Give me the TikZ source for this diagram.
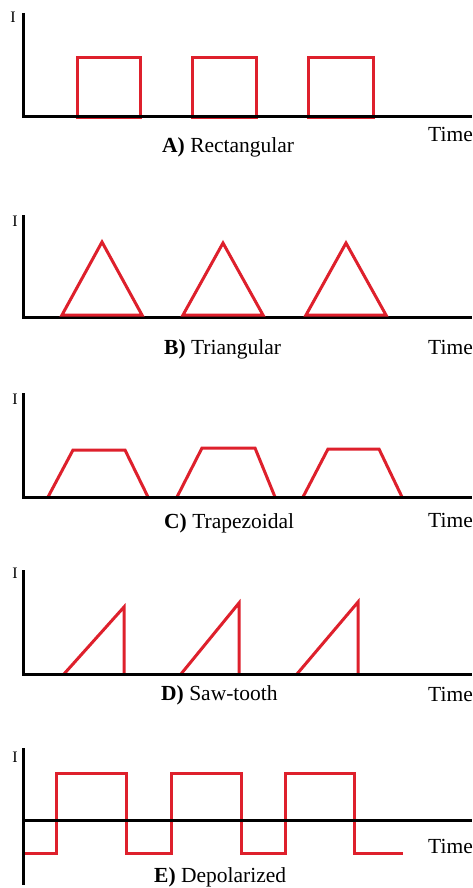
\documentclass[tikz,border=0pt]{standalone}
\usepackage{fontspec}
\setmainfont{Liberation Serif}
\definecolor{wred}{RGB}{222,32,44}
\begin{document}
\begin{tikzpicture}[x=1pt,y=-1pt,
  axis/.style={line width=3pt,black,line join=miter},
  wave/.style={line width=3pt,wred,line join=miter},
  caption/.style={font=\fontsize{21.5}{24}\selectfont,anchor=base west,inner sep=0pt},
  ilab/.style={font=\fontsize{16}{18}\selectfont,anchor=base,inner sep=0pt}]
\useasboundingbox[fill=white] (0,0) rectangle (472,888);
% ---------- A) Rectangular ----------
\draw[wave] (77,118) rectangle (140,58);
\draw[wave] (192,118) rectangle (256,58);
\draw[wave] (308,118) rectangle (373,58);
\draw[axis] (23,13) -- (23,117) -- (472,117);
\node[ilab] (iA) at (13,23) {I};
\node[caption] (capA) at (162,152) {\textbf{A)} Rectangular};
\node[caption] (tA) at (428,142) {Time};
% ---------- B) Triangular ----------
\draw[axis] (23,215) -- (23,317) -- (472,317);
\draw[wave] (62,315) -- (102,242) -- (142,315) -- cycle;
\draw[wave] (183,315) -- (223,243) -- (263,315) -- cycle;
\draw[wave] (306,315) -- (346,243) -- (386,315) -- cycle;
\node[ilab] (iB) at (15,226) {I};
\node[caption] (capB) at (164,354) {\textbf{B)} Triangular};
\node[caption] (tB) at (428,354) {Time};
% ---------- C) Trapezoidal ----------
\draw[wave] (48,497) -- (73,450) -- (125,450) -- (148,497);
\draw[wave] (177,497) -- (202,448) -- (255,448) -- (275,497);
\draw[wave] (303,497) -- (328,449) -- (379,449) -- (402,497);
\draw[axis] (23,393) -- (23,497) -- (472,497);
\node[ilab] (iC) at (15,404) {I};
\node[caption] (capC) at (164,528) {\textbf{C)} Trapezoidal};
\node[caption] (tC) at (428,527) {Time};
% ---------- D) Saw-tooth ----------
\draw[wave] (64,674) -- (124,607) -- (124,674);
\draw[wave] (181,674) -- (239,603) -- (239,674);
\draw[wave] (297,674) -- (358,602) -- (358,674);
\draw[axis] (23,570) -- (23,674) -- (472,674);
\node[ilab] (iD) at (15,578) {I};
\node[caption] (capD) at (161,700) {\textbf{D)} Saw-tooth};
\node[caption] (tD) at (428,701) {Time};
% ---------- E) Depolarized ----------
\draw[wave] (23,853) -- (56,853) -- (56,773) -- (126,773) -- (126,853)
  -- (171,853) -- (171,773) -- (241,773) -- (241,853)
  -- (285,853) -- (285,773) -- (354,773) -- (354,853) -- (403,853);
\draw[axis] (23,748) -- (23,885);
\draw[axis] (23,820) -- (472,820);
\node[ilab] (iE) at (15,762) {I};
\node[caption] (capE) at (154,882) {\textbf{E)} Depolarized};
\node[caption] (tE) at (428,853) {Time};
\end{tikzpicture}
\end{document}
